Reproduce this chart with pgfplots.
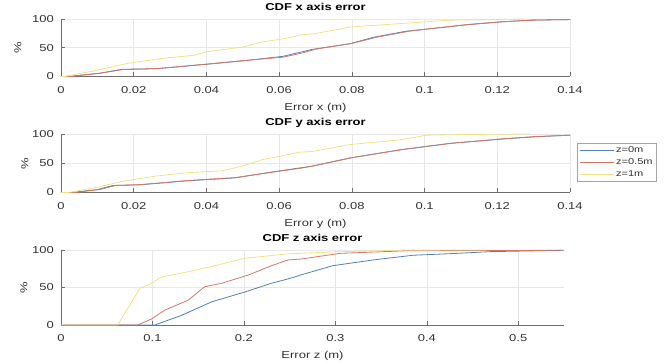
\documentclass[border=0pt]{standalone}
\usepackage{pgfplots}
\pgfplotsset{compat=1.18}
\usepackage{fontspec}
\setmainfont[FakeStretch=1.3]{Liberation Sans}
\definecolor{mblue}{RGB}{80,130,185}
\definecolor{morange}{RGB}{210,120,100}
\definecolor{myellow}{RGB}{238,226,135}
\definecolor{axgray}{RGB}{110,110,110}
\definecolor{txtgray}{RGB}{50,50,50}
\pgfplotsset{
  cdfaxis/.style={
    scale only axis,
    anchor=south west,
    width=509pt,
    ymin=0, ymax=100,
    ytick={0,50,100}, yticklabels={0,50,100},
    axis x line*=bottom, axis y line*=left,
    axis line style={axgray, line width=0.6pt, -},
    tick align=inside,
    major tick length=4pt,
    tick style={axgray, line width=0.6pt},
    grid=major,
    major grid style={gray!18, line width=0.5pt},
    font=\fontsize{10}{12}\selectfont,
    tick label style={txtgray, inner sep=0pt},
    xticklabel style={anchor=north, yshift=-9.5pt},
    yticklabel style={anchor=east, xshift=-7pt},
    title style={font=\fontsize{10}{12}\selectfont\bfseries, at={(axis description cs:0.5,1)}, anchor=base, yshift=2pt},
    xlabel style={txtgray, at={(axis description cs:0.5,0)}, anchor=base, yshift=-34pt},
    ylabel={\%},
    ylabel style={txtgray, at={(axis description cs:0,0.5)}, anchor=center},
    clip=false,
  },
  every axis plot/.append style={line width=0.8pt, no marks},
}
\begin{document}
\begin{tikzpicture}[x=1pt,y=1pt]
\useasboundingbox (0,0) rectangle (664,363);
% ---------- X ----------
\begin{axis}[cdfaxis, at={(61pt,286.5pt)}, height=57.5pt,
  xmin=0, xmax=0.14,
  xtick={0,0.02,0.04,0.06,0.08,0.1,0.12,0.14},
  xticklabels={0,0.02,0.04,0.06,0.08,0.1,0.12,0.14},
  title={CDF x axis error}, xlabel={Error x (m)},
  ylabel style={yshift=43pt}]
\addplot[mblue] table {
0 0
0.002 0
0.005 2
0.010 5
0.0168 12.5
0.026 13.5
0.0396 21
0.0498 27
0.061 35
0.0657 42
0.069 47
0.0795 57
0.0858 68
0.095 78.8
0.1015 83
0.1117 90
0.1207 94.8
0.129 98
0.14 99
};
\addplot[morange] table {
0 0
0.003 0
0.006 2.5
0.011 6
0.017 12
0.027 14
0.040 21.5
0.050 27.5
0.061 33.5
0.0665 41
0.070 47.5
0.080 57.5
0.087 68.5
0.096 79
0.102 83.5
0.112 90.5
0.121 95
0.130 98
0.14 99
};
\addplot[myellow] table {
0 0
0.001 0
0.01 11
0.0184 23
0.0286 32
0.0368 37
0.0396 42.6
0.0498 51
0.0553 60
0.0616 66
0.0657 72
0.0699 74.6
0.0795 86
0.0933 92
0.107 98
0.128 100
};
\end{axis}
% ---------- Y ----------
\begin{axis}[cdfaxis, at={(61pt,170.5pt)}, height=58.5pt,
  xmin=0, xmax=0.14,
  xtick={0,0.02,0.04,0.06,0.08,0.1,0.12,0.14},
  xticklabels={0,0.02,0.04,0.06,0.08,0.1,0.12,0.14},
  title={CDF y axis error}, xlabel={Error y (m)},
  ylabel style={yshift=36pt},
  legend style={at={(axis description cs:1.0138,0.846)}, anchor=north west,
    draw=gray!70, line width=0.5pt, fill=white,
    font=\fontsize{8.5}{10}\selectfont, text=txtgray,
    inner xsep=2pt, inner ysep=1.5pt, row sep=0.5pt,
    /tikz/every even column/.append style={column sep=0pt}},
  legend cell align=left,
  legend image code/.code={\draw[#1] (0pt,0pt) -- (34pt,0pt);}]
\addplot[mblue] table {
0 0
0.003 0
0.01 5
0.0143 12
0.0212 13
0.0349 20
0.0478 25
0.058 35
0.0657 42
0.069 45
0.0795 59
0.0933 73
0.107 84
0.1207 91
0.1298 95
0.14 98
};
\addlegendentry{z=0m}
\addplot[morange] table {
0 0
0.004 0
0.011 5.5
0.015 12
0.022 13.5
0.035 20.5
0.048 25.5
0.059 35.5
0.066 41.5
0.0695 45.5
0.080 59.5
0.094 73.5
0.108 84.5
0.121 91.5
0.130 95.5
0.14 98
};
\addlegendentry{z=0.5m}
\addplot[myellow] table {
0 0
0.002 0
0.01 9
0.0168 19
0.026 28
0.035 34
0.0443 37
0.0498 45
0.0553 56
0.0657 69
0.069 70
0.0795 82
0.0933 90
0.1006 98
0.11 99
0.129 100
};
\addlegendentry{z=1m}
\end{axis}
% ---------- Z ----------
\begin{axis}[cdfaxis, at={(61pt,38pt)}, width=503pt, height=75pt,
  xmin=0, xmax=0.55,
  xtick={0,0.1,0.2,0.3,0.4,0.5},
  xticklabels={0,0.1,0.2,0.3,0.4,0.5},
  title={CDF z axis error}, xlabel={Error z (m)},
  ylabel style={yshift=37pt}]
\addplot[mblue] table {
0 0
0.1027 0
0.132 13
0.165 31
0.201 44
0.230 55.6
0.250 62
0.263 67
0.297 79
0.341 86.7
0.385 93
0.433 95.5
0.469 97.8
0.549 99.6
};
\addplot[morange] table {
0 0
0.084 0
0.099 8
0.1137 20
0.139 33
0.157 51
0.1756 55.6
0.205 66.7
0.230 79
0.248 86.7
0.263 88
0.305 95.5
0.378 99
0.55 99.6
};
\addplot[myellow] table {
0 0
0.062 0
0.0863 49
0.099 55.6
0.110 64
0.139 71
0.168 79
0.201 89
0.250 95
0.30 97.5
0.378 100
0.466 100
};
\end{axis}
\end{tikzpicture}
\end{document}
